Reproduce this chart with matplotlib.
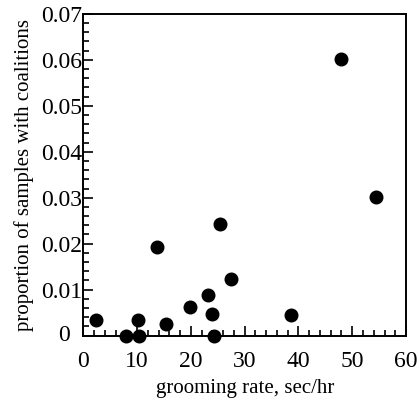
import matplotlib.pyplot as plt
from matplotlib.ticker import MultipleLocator

# grooming rate (sec/hr) vs proportion of samples with coalitions
grooming_rate = [2.4, 7.9, 10.3, 10.1, 13.7, 15.4, 19.8, 23.2, 23.9, 24.2,
                 27.4, 25.4, 38.6, 47.9, 54.5]
coalition_prop = [0.0033, 0.0, 0.0, 0.0034, 0.0192, 0.0024, 0.0062, 0.0088,
                  0.0047, 0.0, 0.0122, 0.0242, 0.0045, 0.0601, 0.0302]

yticks = [0, 0.01, 0.02, 0.03, 0.04, 0.05, 0.06, 0.07]
ytick_labels = ['', '0.01', '0.02', '0.03', '0.04', '0.05', '0.06', '0.07']

plt.rcParams['font.family'] = ['Liberation Serif', 'DejaVu Serif']

fig = plt.figure(figsize=(4.19, 3.98), dpi=100)
ax = fig.add_axes([0.199, 0.157, 0.770, 0.808])

ax.scatter(grooming_rate, coalition_prop, s=82, color='black', zorder=3,
           clip_on=False)

ax.set_xlim(0, 60)
ax.set_ylim(0, 0.07)
ax.xaxis.set_major_locator(MultipleLocator(10))
ax.xaxis.set_minor_locator(MultipleLocator(2))
ax.yaxis.set_minor_locator(MultipleLocator(0.002))
ax.set_yticks(yticks)
ax.set_yticklabels(ytick_labels)

ax.tick_params(which='both', direction='in', top=False, right=False,
               labelsize=17, width=1.2)
ax.tick_params(which='major', length=7)
ax.tick_params(which='minor', length=4)
ax.tick_params(axis='x', which='major', pad=11)
ax.tick_params(axis='y', which='major', pad=1)
for sp in ax.spines.values():
    sp.set_linewidth(1.4)

# the zero on the y axis sits further from the axis than the other labels
ax.annotate('0', xy=(0, 0), xycoords=('axes fraction', 'data'),
            xytext=(-10, 0), textcoords='offset points',
            ha='right', va='center', fontsize=17)

ax.set_xlabel('grooming rate, sec/hr', fontsize=15, labelpad=5)
ax.set_ylabel('proportion of samples with coalitions', fontsize=15, labelpad=5)

fig.savefig('out.png', dpi=100)
